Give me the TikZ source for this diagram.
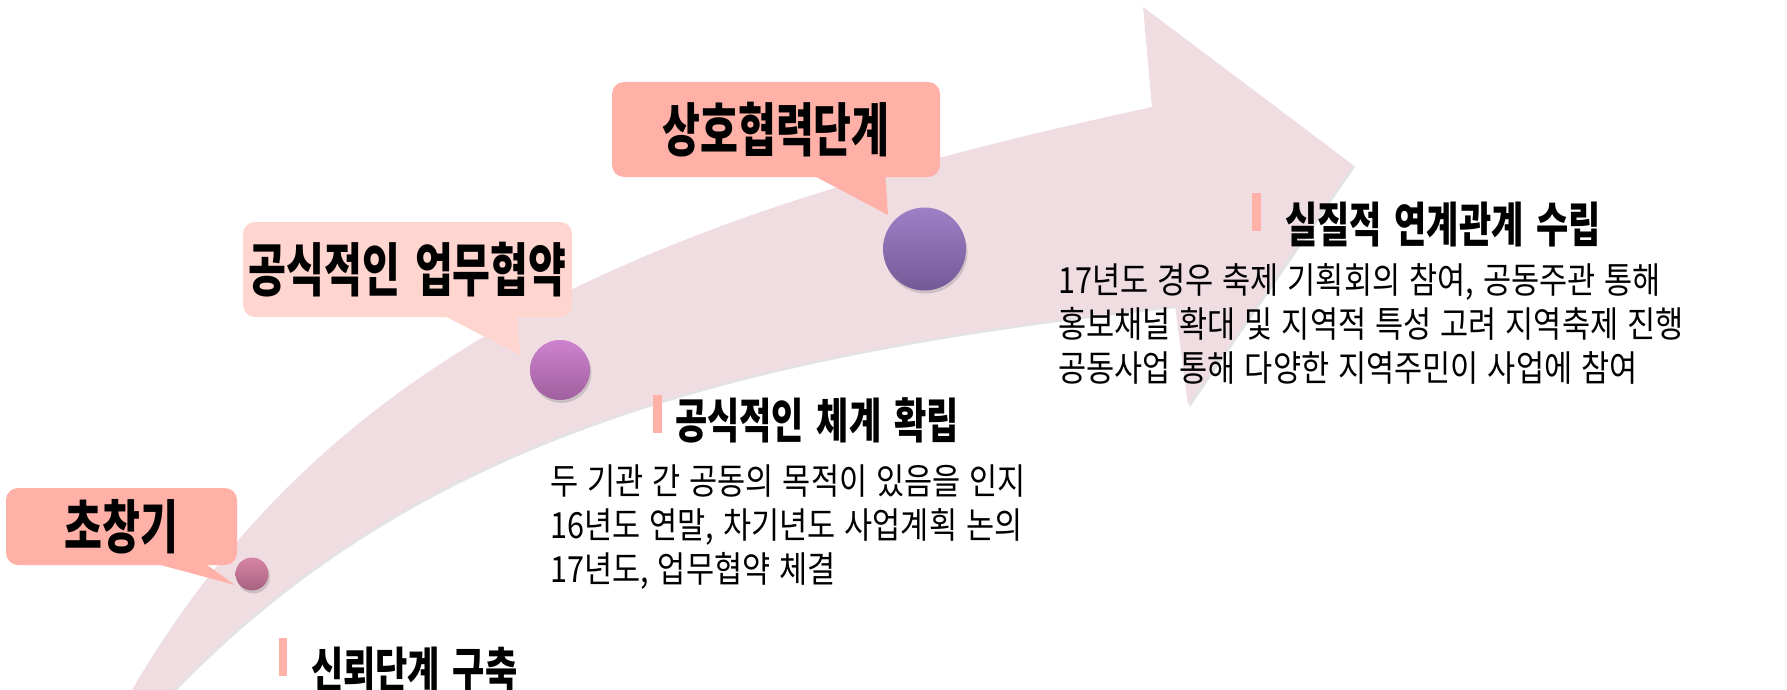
\documentclass[tikz,border=0pt]{standalone}
\usepackage{fontspec}
\usetikzlibrary{shadows}
\newfontfamily\krbody[FakeStretch=0.85,WordSpace=1.3]{Noto Sans CJK KR}
\newfontfamily\krhead[FakeStretch=0.73,WordSpace=1.6]{Noto Sans CJK KR}
\newfontfamily\krcall[FakeStretch=0.71,WordSpace=1.6]{Noto Sans CJK KR}
\definecolor{band}{RGB}{239,221,226}
\definecolor{salmon}{RGB}{255,177,168}
\definecolor{lightsalmon}{RGB}{255,213,207}
\definecolor{dotAtop}{RGB}{214,134,164}
\definecolor{dotAbot}{RGB}{166,98,128}
\definecolor{dotBtop}{RGB}{206,130,206}
\definecolor{dotBbot}{RGB}{160,96,158}
\definecolor{dotCtop}{RGB}{157,128,198}
\definecolor{dotCbot}{RGB}{116,89,152}
\tikzset{
  dot/.style={circle, inner sep=0pt, draw=none,
    drop shadow={shadow xshift=1.5pt, shadow yshift=-3pt, opacity=0.3}},
  callbox/.style={rounded corners=12pt, inner sep=0pt, text=black,
    font=\krcall\bfseries\fontsize{58}{64}\selectfont},
  headtext/.style={anchor=north west, inner sep=0pt, text=black,
    font=\krhead\bfseries\fontsize{48}{54}\selectfont},
  bodytext/.style={anchor=north west, inner sep=0pt, align=left, text=black,
    font=\krbody\fontsize{36}{44}\selectfont},
  headbar/.style={fill=salmon}
}
\begin{document}
\begin{tikzpicture}[x=1pt,y=-1pt]
\useasboundingbox (0,0) rectangle (1787,690);
\fill[white] (0,0) rectangle (1787,690);
\clip (0,0) rectangle (1787,690);

% curved arrow
\path[fill=band, drop shadow={shadow xshift=2pt, shadow yshift=-2pt, opacity=0.22}]
  (132,690) .. controls (334,344) and (663,213) .. (1152,107)
  -- (1143,7) -- (1353,165) -- (1188,405) -- (1175,306)
  .. controls (715,355) and (410,445) .. (173,690) -- cycle;

% callouts
\node[callbox, fill=salmon, minimum width=231pt, minimum height=77pt] (c1) at (121.5,526.5) {초창기};
\coordinate (t1) at (235,585);
\fill[salmon] (142,560) -- (t1) -- (200,560) -- cycle;

\node[callbox, fill=lightsalmon, minimum width=329pt, minimum height=95pt] (c2) at (407.5,269.5) {공식적인 업무협약};
\coordinate (t2) at (520,355);
\fill[lightsalmon] (433,310) -- (t2) -- (517,310) -- cycle;

\node[callbox, fill=salmon, minimum width=328pt, minimum height=95pt] (c3) at (776,129.5) {상호협력단계};
\coordinate (t3) at (888,215);
\fill[salmon] (803,170) -- (t3) -- (885,170) -- cycle;

% dots
\node[dot, minimum size=33pt, top color=dotAtop, bottom color=dotAbot] (d1) at (252,574) {};
\node[dot, minimum size=60pt, top color=dotBtop, bottom color=dotBbot] (d2) at (560,370) {};
\node[dot, minimum size=83pt, top color=dotCtop, bottom color=dotCbot] (d3) at (924.5,249) {};

% headings
\fill[headbar] (279,638) rectangle (287,676);
\node[headtext] (h1) at (311,647) {신뢰단계 구축};

\fill[headbar] (653,395) rectangle (662,433);
\node[headtext] (h2) at (675,397) {공식적인 체계 확립};

\fill[headbar] (1252,193) rectangle (1261,231);
\node[headtext] (h3) at (1285,202) {실질적 연계관계 수립};

% body texts
\node[bodytext] (b2) at (550,465) {두 기관 간 공동의 목적이 있음을 인지\\16년도 연말, 차기년도 사업계획 논의\\17년도, 업무협약 체결};
\node[bodytext] (b3) at (1058,263) {17년도 경우 축제 기획회의 참여, 공동주관 통해\\홍보채널 확대 및 지역적 특성 고려 지역축제 진행\\공동사업 통해 다양한 지역주민이 사업에 참여};
\end{tikzpicture}
\end{document}
